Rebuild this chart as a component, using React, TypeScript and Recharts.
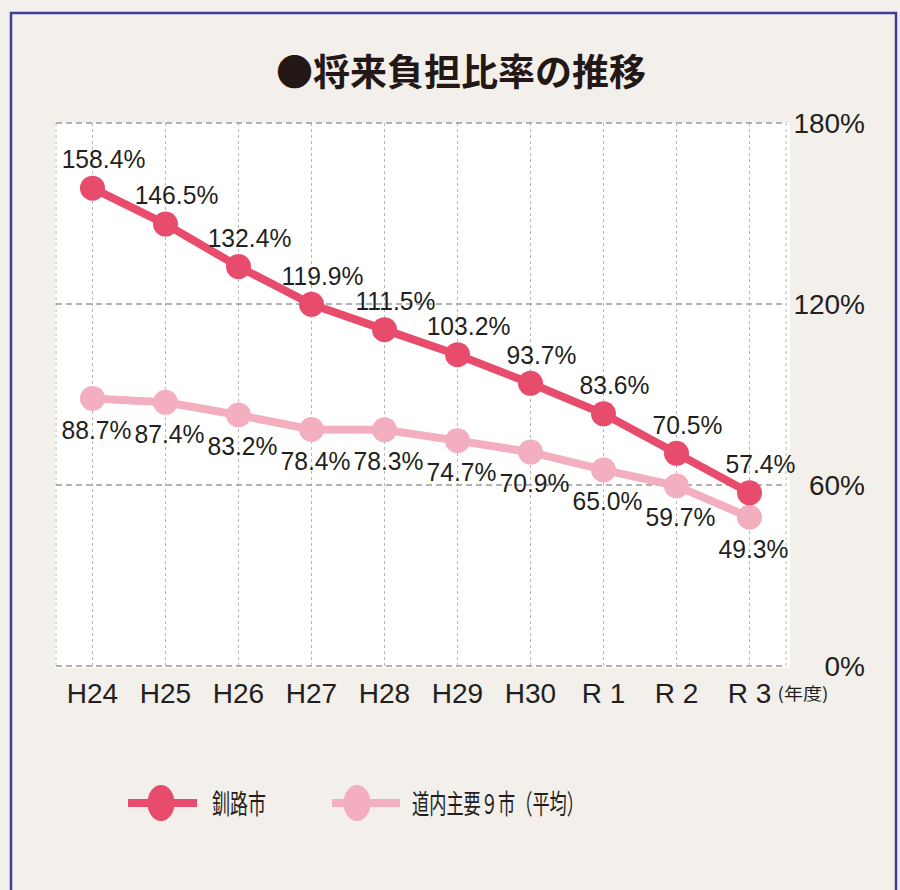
import React from 'react';
import { LineChart, Line, XAxis, YAxis, CartesianGrid, LabelList } from 'recharts';

const categories = ['H24', 'H25', 'H26', 'H27', 'H28', 'H29', 'H30', 'R 1', 'R 2', 'R 3'];
const kushiro = [158.4, 146.5, 132.4, 119.9, 111.5, 103.2, 93.7, 83.6, 70.5, 57.4];
const nineCities = [88.7, 87.4, 83.2, 78.4, 78.3, 74.7, 70.9, 65.0, 59.7, 49.3];
const yTicks = [0, 60, 120, 180];
const seriesNames = ['釧路市', '道内主要９市（平均）'];
const titleText = '●将来負担比率の推移';
const unitText = '(年度)';

const data = categories.map((c, i) => ({ name: c, kushiro: kushiro[i], nine: nineCities[i] }));

const RED = '#e84c6c';
const PINK = '#f3afc0';
const TEXT = '#231f20';
const NUM_FONT = '"Liberation Sans", Arial, Helvetica, sans-serif';
const JP_FONT = '"Noto Sans CJK JP", "Noto Sans", sans-serif';

const XTick = (props: any) => {
  const { x, y, payload, index } = props;
  return (
    <g>
      <text x={x} y={y + 29} textAnchor="middle" fill={TEXT} fontSize={28} fontFamily={NUM_FONT}>
        {payload.value}
      </text>
      {index === categories.length - 1 && (
        <text x={x + 28} y={y + 26} textAnchor="start" fill={TEXT} fontSize={17} fontFamily={JP_FONT} textLength={51} lengthAdjust="spacingAndGlyphs">
          {unitText}
        </text>
      )}
    </g>
  );
};

const YTick = (props: any) => {
  const { x, y, payload } = props;
  return (
    <text x={x + 71} y={y} textAnchor="end" dominantBaseline="central" fill={TEXT} fontSize={28} fontFamily={NUM_FONT}>
      {payload.value}%
    </text>
  );
};

const makeLabel = (dx: number, dy: number) => (props: any) => {
  const { x, y, value } = props;
  return (
    <g transform={`translate(${x + dx},${y + dy}) scale(0.95,1)`}>
      <text x={0} y={0} textAnchor="middle" dominantBaseline="central" fill={TEXT} fontSize={26} fontFamily={NUM_FONT}>
        {Number(value).toFixed(1)}%
      </text>
    </g>
  );
};

export default function App() {
  return (
    <div style={{ position: 'absolute', left: 0, top: 0, width: 900, height: 890, background: '#f3efeb', overflow: 'hidden' }}>
      <svg width={900} height={890} style={{ position: 'absolute', left: 0, top: 0 }}>
        <rect x={55} y={123} width={735} height={545} fill="#ffffff" />
        <rect x={11} y={13} width={885} height={900} fill="none" stroke="#3d3e9c" strokeWidth={2.5} />
        <text x={276} y={86} fontSize={37} fontWeight={700} fill="#231815" fontFamily={JP_FONT}>
          {titleText}
        </text>
      </svg>
      <div style={{ position: 'absolute', left: 0, top: 0 }}>
        <LineChart width={900} height={890} data={data} margin={{ top: 123, left: 56, right: 14, bottom: 164 }}>
          <CartesianGrid horizontal={false} vertical={true} fill="#ffffff" fillOpacity={1} stroke="#b8b8b8" strokeDasharray="3 3" strokeWidth={1} />
          <CartesianGrid horizontal={true} vertical={false} stroke="#9a9a9a" strokeDasharray="6 4" strokeWidth={1.5} />
          <XAxis dataKey="name" axisLine={false} tickLine={false} height={60} padding={{ left: 36.5, right: 36.5 }} tick={<XTick />} interval={0} />
          <YAxis orientation="right" domain={[0, 180]} ticks={yTicks} axisLine={false} tickLine={false} width={100} tick={<YTick />} />
          <Line type="linear" dataKey="nine" stroke={PINK} strokeWidth={8} dot={{ r: 12.5, fill: PINK, stroke: PINK, strokeWidth: 0 }} isAnimationActive={false}>
            <LabelList dataKey="nine" content={makeLabel(4, 31)} />
          </Line>
          <Line type="linear" dataKey="kushiro" stroke={RED} strokeWidth={8} dot={{ r: 12.5, fill: RED, stroke: RED, strokeWidth: 0 }} isAnimationActive={false}>
            <LabelList dataKey="kushiro" content={makeLabel(11, -29)} />
          </Line>
        </LineChart>
      </div>
      <svg width={900} height={100} style={{ position: 'absolute', left: 0, top: 760 }}>
        <line x1={128} y1={43} x2={197} y2={43} stroke={RED} strokeWidth={8} />
        <ellipse cx={161} cy={43} rx={13.5} ry={18} fill={RED} />
        <text x={212} y={54} fontSize={27} fill={TEXT} fontFamily={JP_FONT} textLength={54} lengthAdjust="spacingAndGlyphs">
          {seriesNames[0]}
        </text>
        <line x1={332} y1={43} x2={400} y2={43} stroke={PINK} strokeWidth={8} />
        <ellipse cx={357} cy={43} rx={13.5} ry={18} fill={PINK} />
        <text x={412} y={54} fontSize={27} fill={TEXT} fontFamily={JP_FONT} textLength={172} lengthAdjust="spacingAndGlyphs">
          {seriesNames[1]}
        </text>
      </svg>
    </div>
  );
}
